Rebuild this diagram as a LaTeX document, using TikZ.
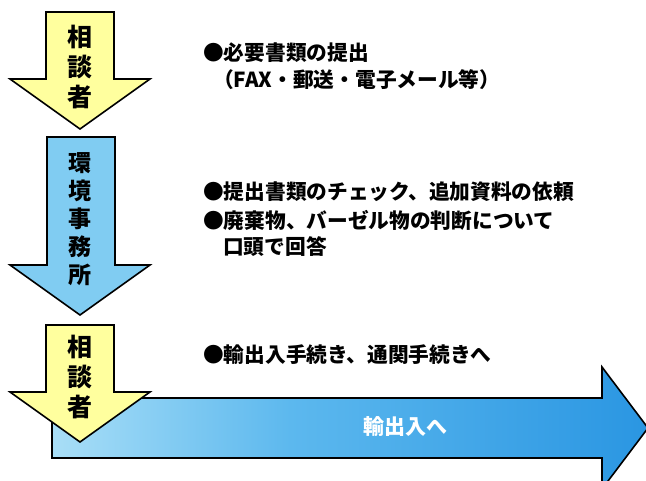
\documentclass[tikz,border=0pt]{standalone}
\usepackage{fontspec}
\newfontfamily\cjk{Noto Sans CJK JP}
\definecolor{ayellow}{HTML}{FFFF9E}
\definecolor{ablue}{HTML}{80CCF2}
\definecolor{bA}{HTML}{EAF9FE}
\definecolor{bB}{HTML}{BCE8F9}
\definecolor{bC}{HTML}{5CB8EE}
\definecolor{bD}{HTML}{2A96E2}
\definecolor{bE}{HTML}{1A84D8}
\pgfdeclarehorizontalshading{bigshade}{100bp}{color(0bp)=(bA); color(20bp)=(bB); color(45bp)=(bC); color(75bp)=(bD); color(100bp)=(bE)}
\tikzset{
  arrowshape/.style={draw=black, line width=1.6pt, line join=miter},
  vlabel/.style={font=\cjk\bfseries\fontsize{25}{30}\selectfont, align=center, inner sep=0pt, text=black},
  vlabelsmall/.style={font=\cjk\bfseries\fontsize{23}{28}\selectfont, align=center, inner sep=0pt, text=black},
  txt/.style={font=\cjk\bfseries\fontsize{20.7}{24}\selectfont, anchor=west, inner sep=0pt, text=black}
}
\begin{document}
\begin{tikzpicture}[x=1pt,y=-1pt]
\useasboundingbox (0,0) rectangle (646,481);
\clip (0,0) rectangle (646,481);
\fill[white] (0,0) rectangle (646,481);
% big horizontal arrow
\path[arrowshape, shading=bigshade] (52,398) -- (602,398) -- (602,367) -- (648,428) -- (602,489) -- (602,458) -- (52,458) -- cycle;
\node[font=\cjk\bfseries\fontsize{21}{22}\selectfont, text=white, inner sep=0pt] (big) at (405,427) {輸出入へ};
% arrow 1
\path[arrowshape, fill=ayellow] (46,12) -- (114,12) -- (114,79) -- (150,79) -- (80,129) -- (10,79) -- (46,79) -- cycle;
\node[vlabel] (a1) at (80,67) {相\\談\\者};
% arrow 2
\path[arrowshape, fill=ablue] (47,137) -- (115,137) -- (115,265) -- (150,265) -- (80,315) -- (10,265) -- (47,265) -- cycle;
\node[vlabelsmall] (a2) at (80,219) {環\\境\\事\\務\\所};
% arrow 3
\path[arrowshape, fill=ayellow] (46,325) -- (114,325) -- (114,392) -- (150,392) -- (80,442) -- (10,392) -- (46,392) -- cycle;
\node[vlabel] (a3) at (80,377) {相\\談\\者};
% texts
\node[txt] (t1a) at (203,53) {●必要書類の提出};
\node[txt] (t1b) at (213,80) {（FAX・郵送・電子メール等）};
\node[txt] (t2a) at (203,192) {●提出書類のチェック、追加資料の依頼};
\node[txt] (t2b) at (203,220) {●廃棄物、バーゼル物の判断について};
\node[txt] (t2c) at (223,247) {口頭で回答};
\node[txt] (t3a) at (203,355) {●輸出入手続き、通関手続きへ};
\end{tikzpicture}
\end{document}
